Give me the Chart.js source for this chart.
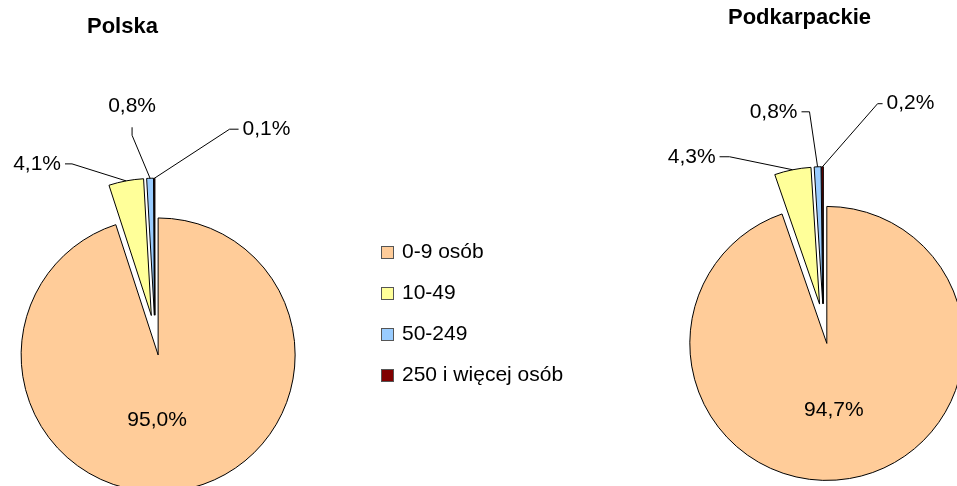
<!DOCTYPE html>
<html>
<head>
<meta charset="utf-8">
<title>Polska / Podkarpackie</title>
<script src="https://cdn.jsdelivr.net/npm/chart.js@4.4.1/dist/chart.umd.min.js"></script>
<style>
  html, body { margin: 0; padding: 0; background: #fff; overflow: hidden; }
  #wrap { position: relative; width: 957px; height: 486px; }
  #wrap canvas { position: absolute; left: 0; top: 0; }
  #legend {
    position: absolute; left: 381px; top: 230px;
    font: 21px "Liberation Sans", Arial, sans-serif; color: #000;
  }
  #legend .item { height: 41px; display: flex; align-items: center; white-space: nowrap; }
  #legend .box {
    display: inline-block; width: 11px; height: 11px; border: 1px solid #555;
    margin-right: 8px; position: relative; top: 1.5px;
  }
</style>
</head>
<body>
<div id="wrap">
  <canvas id="polskaChart" width="957" height="486"></canvas>
  <canvas id="podkarpackieChart" width="957" height="486"></canvas>
  <div id="legend"></div>
</div>

<script>
// data
const categories = ['0-9 osób', '10-49', '50-249', '250 i więcej osób'];
const polskaValues = [95.0, 4.1, 0.8, 0.1];
const podkarpackieValues = [94.7, 4.3, 0.8, 0.2];
const sliceColors = ['#FFCC99', '#FFFF99', '#99CCFF', '#800000'];

const FONT = '"Liberation Sans", Arial, sans-serif';
Chart.defaults.font.family = FONT;
Chart.defaults.color = '#000';

// move every slice out along its own middle angle (like Excel "explosion")
const explodePlugin = {
  id: 'explode',
  afterDatasetsUpdate(chart, args, opts) {
    const dist = opts.distance || 0;
    chart.getDatasetMeta(0).data.forEach(arc => {
      const mid = (arc.startAngle + arc.endAngle) / 2;
      arc.x += Math.cos(mid) * dist;
      arc.y += Math.sin(mid) * dist;
    });
  }
};

// percentage labels, with leader lines for the small slices
const pctLabelsPlugin = {
  id: 'pctLabels',
  afterDatasetsDraw(chart, args, opts) {
    const ctx = chart.ctx;
    const values = chart.data.datasets[0].data;
    ctx.save();
    ctx.font = '21px ' + FONT;
    ctx.fillStyle = '#000';
    ctx.strokeStyle = '#000';
    ctx.lineWidth = 1;
    ctx.textAlign = 'center';
    ctx.textBaseline = 'middle';
    chart.getDatasetMeta(0).data.forEach((arc, i) => {
      const spot = opts.spots[i];
      const text = values[i].toFixed(1).replace('.', ',') + '%';
      if (spot.inside) {
        ctx.fillText(text, arc.x + spot.dx, arc.y + spot.dy);
        return;
      }
      const mid = (arc.startAngle + arc.endAngle) / 2;
      const ax = arc.x + Math.cos(mid) * arc.outerRadius;
      const ay = arc.y + Math.sin(mid) * arc.outerRadius;
      const tx = ax + spot.dx;
      const ty = ay + spot.dy;
      const half = ctx.measureText(text).width / 2;
      let sx, sy, ex, ey;
      if (spot.side === 'right') {
        sx = tx + half + 4; sy = ty; ex = sx + spot.len; ey = ty;
      } else if (spot.side === 'left') {
        sx = tx - half - 4; sy = ty; ex = sx - spot.len; ey = ty;
      } else {
        sx = tx; sy = ty + 21; ex = tx; ey = sy + spot.len;
      }
      ctx.beginPath();
      ctx.moveTo(sx, sy);
      ctx.lineTo(ex, ey);
      ctx.lineTo(ax, ay);
      ctx.stroke();
      ctx.fillText(text, tx, ty);
    });
    ctx.restore();
  }
};

function makePie(id, title, values, layoutPad, titlePad, spots) {
  return new Chart(document.getElementById(id), {
    type: 'pie',
    data: {
      labels: categories,
      datasets: [{
        data: values,
        backgroundColor: sliceColors,
        borderColor: '#000',
        borderWidth: 1,
        radius: 137,
        clip: false
      }]
    },
    options: {
      responsive: false,
      animation: false,
      events: [],
      radius: 137,
      layout: { padding: layoutPad },
      plugins: {
        legend: { display: false },
        tooltip: { enabled: false },
        title: {
          display: true,
          text: title,
          align: 'start',
          color: '#000',
          font: { size: 22, weight: 'bold', family: FONT },
          padding: titlePad
        },
        explode: { distance: 20 },
        pctLabels: { spots: spots }
      }
    },
    plugins: [explodePlugin, pctLabelsPlugin]
  });
}

makePie('polskaChart', 'Polska', polskaValues,
  { left: 87, right: 734, top: 0, bottom: 0 },
  { top: 14, bottom: 144 },
  [
    { inside: true, dx: -1, dy: 65 },
    { side: 'right', dx: -89, dy: -17, len: 7 },
    { side: 'below', dx: -18, dy: -72, len: 8 },
    { side: 'left', dx: 112, dy: -49, len: 9 }
  ]);

makePie('podkarpackieChart', 'Podkarpackie', podkarpackieValues,
  { left: 728, right: 38, top: 0, bottom: 0 },
  { top: 5, bottom: 130 },
  [
    { inside: true, dx: 7, dy: 67 },
    { side: 'right', dx: -101, dy: -13, len: 10 },
    { side: 'right', dx: -44, dy: -55, len: 8 },
    { side: 'left', dx: 88, dy: -63, len: 5 }
  ]);

// shared legend
const legendEl = document.getElementById('legend');
categories.forEach((name, i) => {
  const row = document.createElement('div');
  row.className = 'item';
  const box = document.createElement('span');
  box.className = 'box';
  box.style.background = sliceColors[i];
  row.appendChild(box);
  row.appendChild(document.createTextNode(name));
  legendEl.appendChild(row);
});
</script>
</body>
</html>
